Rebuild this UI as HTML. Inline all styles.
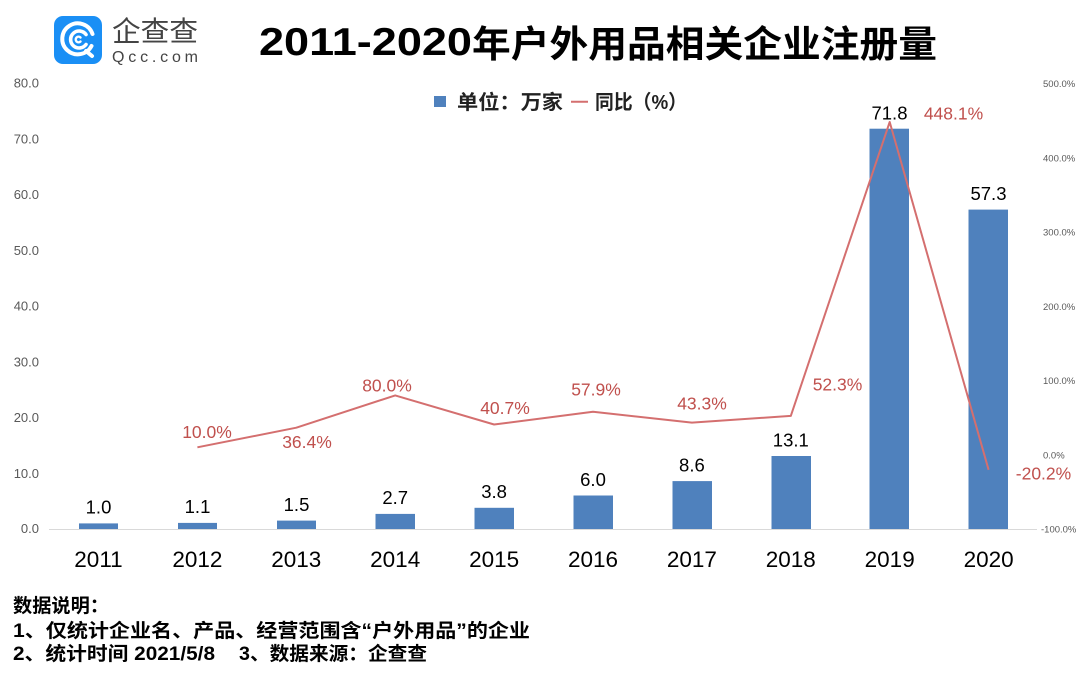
<!DOCTYPE html>
<html>
<head>
<meta charset="utf-8">
<style>
  html, body { margin:0; padding:0; background:#fff; }
  svg { display:block; }
  .cjk { font-family: "Liberation Sans", "Noto Sans CJK SC", "WenQuanYi Zen Hei", sans-serif; }
  .lat { font-family: "Liberation Sans", sans-serif; }
</style>
</head>
<body>
<svg width="1089" height="680" viewBox="0 0 1089 680" xmlns="http://www.w3.org/2000/svg">
  <rect x="0" y="0" width="1089" height="680" fill="#ffffff"/>

  <!-- Logo -->
  <rect x="54" y="16" width="48" height="48" rx="9" ry="9" fill="#1a8ff5"/>
  <g fill="none" stroke="#ffffff" stroke-linecap="round">
    <path d="M 91.5 46 A 15.5 15.5 0 1 1 92.5 34" stroke-width="4"/>
    <path d="M 86 34.5 A 8.5 8.5 0 1 0 86 44.5" stroke-width="3.6"/>
    <path d="M 80.5 37.5 A 2.8 2.8 0 1 0 80.5 41.5" stroke-width="2.4"/>
    <path d="M 86 51 L 92 56" stroke-width="4"/>
  </g>
  <text x="112" y="41" class="cjk" font-size="28" fill="#444444" textLength="86" lengthAdjust="spacingAndGlyphs">企查查</text>
  <text x="112" y="62" class="lat" font-size="16" fill="#444444" textLength="86" lengthAdjust="spacing">Qcc.com</text>

  <!-- Title -->
  <text x="259" y="55" class="lat" font-size="39" font-weight="bold" fill="#000" textLength="213" lengthAdjust="spacingAndGlyphs">2011-2020</text>
  <text x="472" y="57" class="cjk" font-size="37" font-weight="bold" fill="#000" textLength="465" lengthAdjust="spacingAndGlyphs">年户外用品相关企业注册量</text>

  <!-- Legend -->
  <rect x="434" y="96" width="12" height="11" fill="#4f81bd"/>
  <text x="457" y="109" class="cjk" font-size="20" font-weight="bold" fill="#222" textLength="106" lengthAdjust="spacingAndGlyphs">单位：万家</text>
  <line x1="571" y1="101.7" x2="588" y2="101.7" stroke="#d46f6f" stroke-width="2"/>
  <text x="595" y="109" class="cjk" font-size="20" font-weight="bold" fill="#222" textLength="92" lengthAdjust="spacingAndGlyphs">同比（%）</text>

  <!-- Left axis labels -->
  <g class="lat" font-size="13" fill="#595959" text-anchor="end">
    <text x="39" y="87.5">80.0</text>
    <text x="39" y="143.3">70.0</text>
    <text x="39" y="199">60.0</text>
    <text x="39" y="254.8">50.0</text>
    <text x="39" y="310.5">40.0</text>
    <text x="39" y="366.3">30.0</text>
    <text x="39" y="422">20.0</text>
    <text x="39" y="477.8">10.0</text>
    <text x="39" y="533">0.0</text>
  </g>

  <!-- Right axis labels -->
  <g class="lat" font-size="9.5" fill="#595959">
    <text x="1043" y="87">500.0%</text>
    <text x="1043" y="161.3">400.0%</text>
    <text x="1043" y="235.5">300.0%</text>
    <text x="1043" y="309.8">200.0%</text>
    <text x="1043" y="384">100.0%</text>
    <text x="1043" y="458.3">0.0%</text>
    <text x="1041" y="532.5">-100.0%</text>
  </g>

  <!-- Bars -->
  <g fill="#4f81bd">
    <rect x="79" y="523.4" width="39" height="5.6"/>
    <rect x="178" y="522.9" width="39" height="6.1"/>
    <rect x="277" y="520.6" width="39" height="8.4"/>
    <rect x="375.5" y="513.9" width="39.5" height="15.1"/>
    <rect x="474.5" y="507.8" width="39.5" height="21.2"/>
    <rect x="573.5" y="495.5" width="39.5" height="33.5"/>
    <rect x="672.5" y="481.1" width="39.5" height="47.9"/>
    <rect x="771.5" y="456" width="39.5" height="73"/>
    <rect x="869.5" y="128.7" width="39.5" height="400.3"/>
    <rect x="968.5" y="209.6" width="39.5" height="319.4"/>
  </g>

  <!-- Axis line -->
  <line x1="49" y1="529.5" x2="1037" y2="529.5" stroke="#d9d9d9" stroke-width="1"/>

  <!-- YoY line -->
  <polyline fill="none" stroke="#d46f6f" stroke-width="2" stroke-linejoin="round"
    points="197.4,447.3 296.3,427.7 395.2,395.4 494.1,424.5 593,411.8 691.9,422.6 790.8,415.9 889.7,122 988.6,469.8"/>

  <!-- Bar value labels -->
  <g class="lat" font-size="18.5" fill="#000" text-anchor="middle">
    <text x="98.5" y="513.5">1.0</text>
    <text x="197.5" y="513">1.1</text>
    <text x="296.5" y="511">1.5</text>
    <text x="395.2" y="504.2">2.7</text>
    <text x="494.1" y="498">3.8</text>
    <text x="593" y="485.8">6.0</text>
    <text x="691.9" y="471.4">8.6</text>
    <text x="790.8" y="446.3">13.1</text>
    <text x="889.5" y="119.5">71.8</text>
    <text x="988.5" y="200">57.3</text>
  </g>

  <!-- YoY labels -->
  <g class="lat" font-size="17.5" fill="#c0504d" text-anchor="middle">
    <text x="207" y="438">10.0%</text>
    <text x="307" y="448">36.4%</text>
    <text x="387" y="391.3">80.0%</text>
    <text x="505" y="414">40.7%</text>
    <text x="596" y="395.5">57.9%</text>
    <text x="702" y="409.5">43.3%</text>
    <text x="837.5" y="390.3">52.3%</text>
    <text x="953.5" y="119.5">448.1%</text>
    <text x="1043.5" y="479.5">-20.2%</text>
  </g>

  <!-- Year labels -->
  <g class="lat" font-size="22.5" fill="#000" text-anchor="middle">
    <text x="98.5" y="567">2011</text>
    <text x="197.4" y="567">2012</text>
    <text x="296.3" y="567">2013</text>
    <text x="395.2" y="567">2014</text>
    <text x="494.1" y="567">2015</text>
    <text x="593" y="567">2016</text>
    <text x="691.9" y="567">2017</text>
    <text x="790.8" y="567">2018</text>
    <text x="889.7" y="567">2019</text>
    <text x="988.6" y="567">2020</text>
  </g>

  <!-- Footer -->
  <g class="cjk" font-size="19" font-weight="bold" fill="#000">
    <text x="13" y="612" textLength="96" lengthAdjust="spacingAndGlyphs">数据说明：</text>
    <text x="13" y="637" textLength="517" lengthAdjust="spacingAndGlyphs">1、仅统计企业名、产品、经营范围含“户外用品”的企业</text>
    <text x="13" y="660" textLength="202" lengthAdjust="spacingAndGlyphs">2、统计时间 2021/5/8</text>
    <text x="239" y="660" textLength="188" lengthAdjust="spacingAndGlyphs">3、数据来源：企查查</text>
  </g>
</svg>
</body>
</html>
